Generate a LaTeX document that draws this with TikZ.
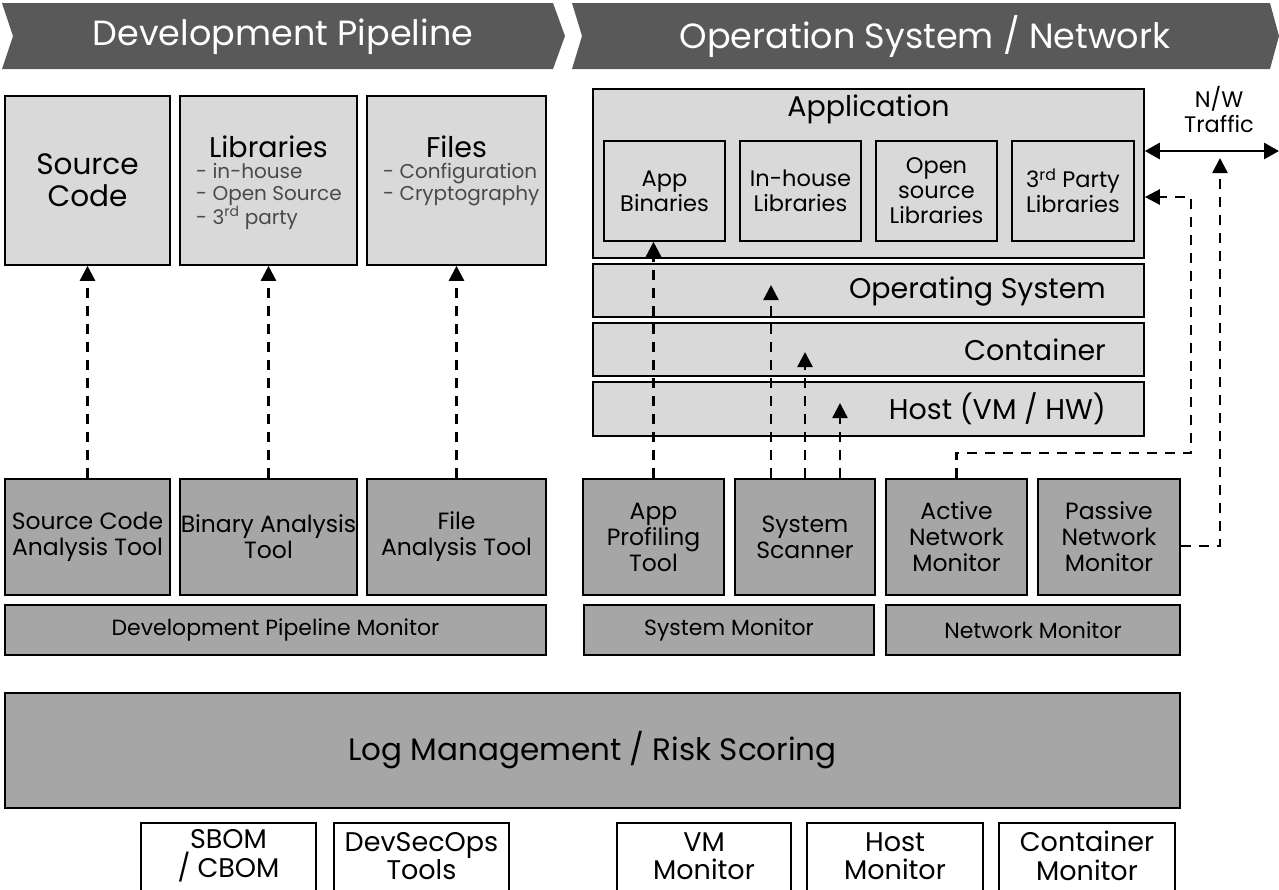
\documentclass[tikz,border=0pt]{standalone}
\usepackage{fontspec}
\setmainfont{Poppins}
\usetikzlibrary{arrows.meta}
\definecolor{lightbox}{HTML}{D9D9D9}
\definecolor{toolbox}{HTML}{A6A6A6}
\definecolor{bannergray}{HTML}{595959}
\definecolor{subtext}{HTML}{4A4A4A}
\begin{document}
\begin{tikzpicture}[x=1pt,y=-1pt,
  frame/.style={draw=black, line width=1.6pt, inner sep=0pt, align=center},
  layer/.style={frame, fill=lightbox},
  tool/.style={frame, fill=toolbox},
  txt/.style={inner sep=0pt, align=center},
  f35/.style={font=\fontsize{35}{40}\selectfont},
  f29/.style={font=\fontsize{29.5}{32}\selectfont},
  f28/.style={font=\fontsize{28.5}{32}\selectfont},
  f24/.style={font=\fontsize{23.5}{26}\selectfont},
  f23/.style={font=\fontsize{22.5}{25}\selectfont},
  f22/.style={font=\fontsize{22}{25}\selectfont},
  f20/.style={font=\fontsize{20}{22}\selectfont},
  fnw/.style={font=\fontsize{22.5}{25}\selectfont},
  fcon/.style={font=\fontsize{27}{28.5}\selectfont},
  dasharrow/.style={line width=2.4pt, dash pattern=on 10pt off 8pt,
    -{Triangle[width=15pt,length=15pt]}},
  trafficarrow/.style={line width=2.8pt,
    {Triangle[width=16pt,length=15pt]}-{Triangle[width=16pt,length=15pt]}}
]
\useasboundingbox (0,0) rectangle (1279,889);

% ---- banners ----
\fill[bannergray] (2,3) -- (553,3) -- (565,36) -- (553,69) -- (2,69) -- (13,36) -- cycle;
\fill[bannergray] (572,3) -- (1270,3) -- (1279,36) -- (1270,69) -- (572,69) -- (582,36) -- cycle;
\node[txt, f35, text=white] (bandev) at (283,37) {Development Pipeline};
\node[txt, f35, text=white] (banops) at (925,37) {Operation System / Network};

% ---- development pipeline assets ----
\node[layer, minimum width=165, minimum height=169] (src) at (87.5,180.5) {};
\node[txt, f29] (srct) at (87.5,180) {Source\\Code};
\node[layer, minimum width=177, minimum height=169] (lib) at (268.5,180.5) {};
\node[txt, f28] (libt) at (268.5,147) {Libraries};
\node[txt, f20, text=subtext, align=left, anchor=north west] (libl) at (196,163)
  {- in-house\\- Open Source\\- 3\textsuperscript{rd} party};
\node[layer, minimum width=179, minimum height=169] (files) at (456.5,180.5) {};
\node[txt, f28] (filest) at (456.5,147) {Files};
\node[txt, f20, text=subtext, align=left, anchor=north west] (filesl) at (383,163)
  {- Configuration\\- Cryptography};

% ---- development pipeline tools ----
\node[tool, f24, minimum width=165, minimum height=116] (sca) at (87.5,537) {Source Code\\Analysis Tool};
\node[tool, f24, minimum width=177, minimum height=116] (bat) at (268.5,537) {Binary Analysis\\Tool};
\node[tool, f24, minimum width=179, minimum height=116] (fat) at (456.5,537) {File\\Analysis Tool};
\node[tool, f22, minimum width=541, minimum height=50] (dpm) at (275.5,630) {Development Pipeline Monitor};

\draw[dasharrow] (sca.north) -- (src.south);
\draw[dasharrow] (bat.north) -- (lib.south);
\draw[dasharrow] (fat.north) -- (files.south);

% ---- runtime stack ----
\node[layer, minimum width=551, minimum height=169] (app) at (868.5,173.5) {};
\node[txt, f28] (appt) at (868.5,109) {Application};
\node[layer, f23, minimum width=121, minimum height=100] (appbin) at (664.5,191) {App\\Binaries};
\node[layer, f23, minimum width=121, minimum height=100] (inhouse) at (800.5,191) {In-house\\Libraries};
\node[layer, f23, minimum width=121, minimum height=100] (opensrc) at (936.5,191) {Open\\source\\Libraries};
\node[layer, f23, minimum width=122, minimum height=100] (third) at (1073,191) {3\textsuperscript{rd} Party\\Libraries};

\node[layer, minimum width=551, minimum height=53] (os) at (868.5,290.5) {};
\node[txt, f28, anchor=east] (ost) at (1106,291) {Operating System};
\node[layer, minimum width=551, minimum height=53] (cont) at (868.5,349.5) {};
\node[txt, f28, anchor=east] (contt) at (1106,350) {Container};
\node[layer, minimum width=551, minimum height=54] (host) at (868.5,409) {};
\node[txt, f28, anchor=east] (hostt) at (1106,409) {Host (VM / HW)};

% ---- runtime tools ----
\node[tool, f24, minimum width=141, minimum height=116] (apt) at (653.5,537) {App\\Profiling\\Tool};
\node[tool, f24, minimum width=140, minimum height=116] (ss) at (805,537) {System\\Scanner};
\node[tool, f24, minimum width=141, minimum height=116] (anm) at (956.5,537) {Active\\Network\\Monitor};
\node[tool, f24, minimum width=142, minimum height=116] (pnm) at (1109,537) {Passive\\Network\\Monitor};
\node[tool, f22, minimum width=290, minimum height=50] (sysmon) at (729,630) {System Monitor};
\node[tool, f22, minimum width=294, minimum height=50] (netmon) at (1033,630) {Network Monitor};

% ---- network traffic ----
\coordinate (nwR) at (1279,151);
\draw[trafficarrow] (app.east |- nwR) -- (nwR);
\node[txt, fnw] (nwt) at (1219,110) {N/W\\Traffic};

% ---- scan paths ----
\draw[dasharrow] (apt.north) -- (apt.north |- appbin.south);
\coordinate (tipOS) at (771,285);
\coordinate (tipCont) at (805,352);
\coordinate (tipHost) at (840,403);
\draw[dasharrow] (ss.north -| tipOS) -- (tipOS);
\draw[dasharrow] (ss.north -| tipCont) -- (tipCont);
\draw[dasharrow] (ss.north -| tipHost) -- (tipHost);

\coordinate (actTurn) at (1191,453);
\coordinate (actEnd) at (1191,197);
\draw[dasharrow] (anm.north) |- (actTurn) -- (actEnd) -- (app.east |- actEnd);

\coordinate (tapOut) at ([yshift=-9pt]pnm.east);
\coordinate (tapTip) at (1220,158);
\draw[dasharrow] (tapOut) -| (tapTip);

% ---- log management ----
\node[tool, font=\fontsize{31}{36}\selectfont, minimum width=1175, minimum height=115] (log) at (592.5,750.5) {Log Management / Risk Scoring};

% ---- consumers (boxes run past the lower edge) ----
\foreach \xa/\xb in {141/316, 334/509, 617/791, 807/983, 999/1175}
  \draw[line width=1.6pt] (\xa,895) |- (\xb,823) -- (\xb,895);
\node[txt, fcon] (sbom) at (228.5,856) {SBOM\\/ CBOM};
\node[txt, fcon] (devsec) at (421.5,856) {DevSecOps\\Tools};
\node[txt, fcon] (vmmon) at (704,856) {VM\\Monitor};
\node[txt, fcon] (hostmon) at (895,856) {Host\\Monitor};
\node[txt, fcon] (contmon) at (1087,856) {Container\\Monitor};
\end{tikzpicture}
\end{document}
